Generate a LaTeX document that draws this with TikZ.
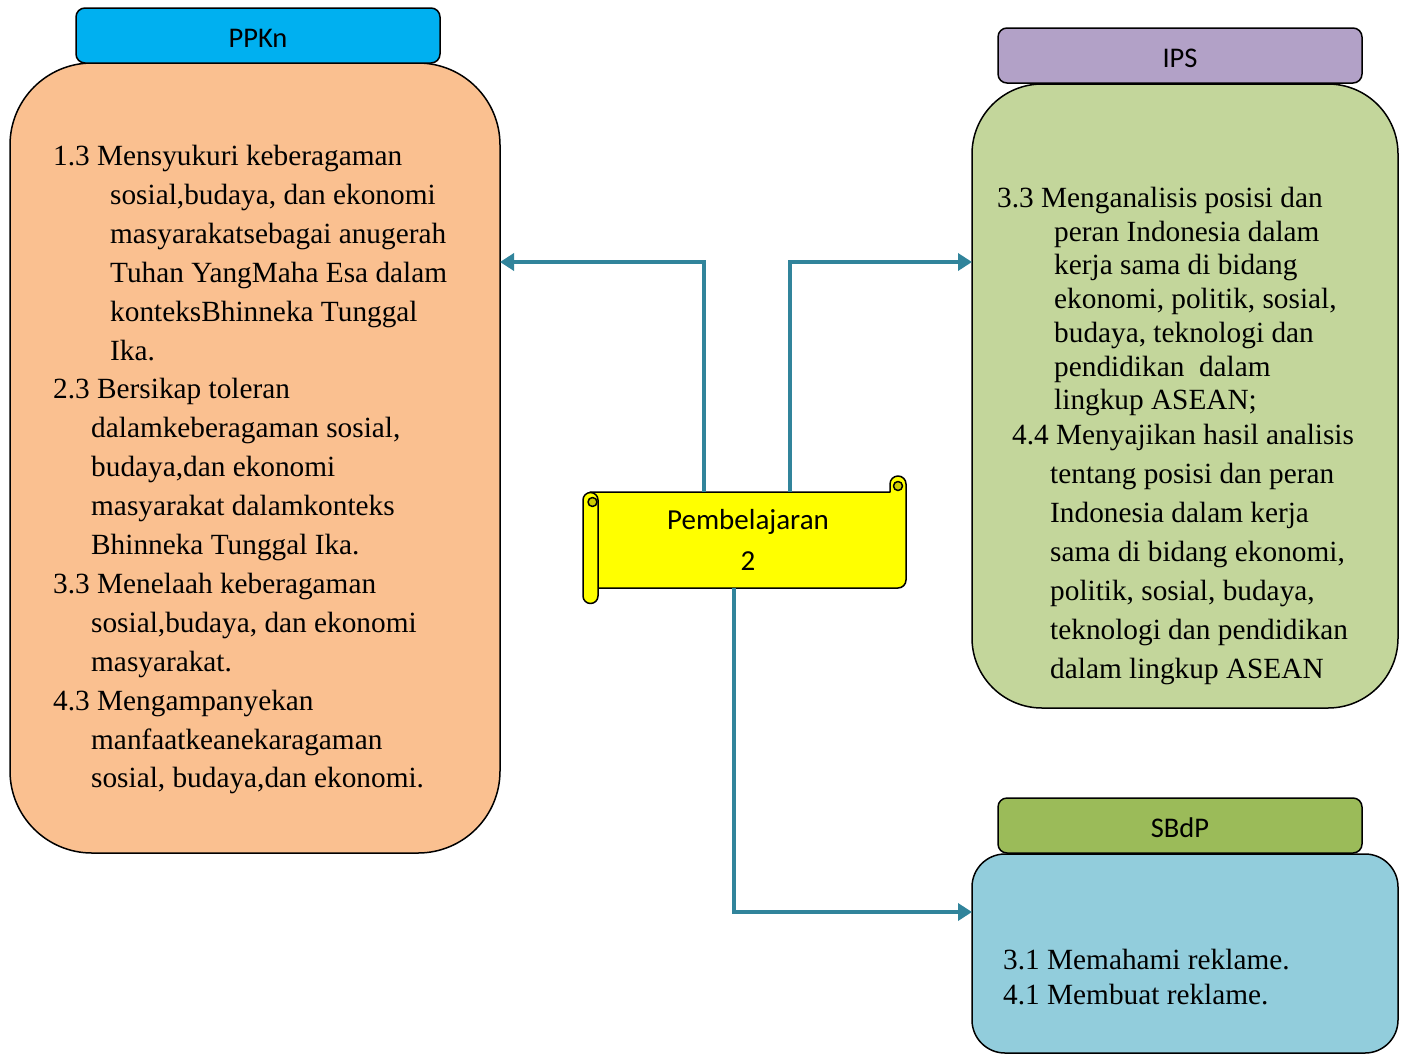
\documentclass[tikz,border=0pt]{standalone}
\usepackage{fontspec}
\setmainfont{Liberation Serif}
\newfontfamily\calibri{Carlito}
\usetikzlibrary{arrows.meta}
\definecolor{ppknhead}{HTML}{00B0F0}
\definecolor{ppknbody}{HTML}{FAC090}
\definecolor{ipshead}{HTML}{B2A1C7}
\definecolor{ipsbody}{HTML}{C3D69B}
\definecolor{sbdphead}{HTML}{9BBB59}
\definecolor{sbdpbody}{HTML}{92CDDC}
\definecolor{conncol}{HTML}{31849B}
\definecolor{scrollyel}{HTML}{FFFF00}
\definecolor{scrolldark}{HTML}{CCCC00}
\begin{document}
\begin{tikzpicture}[x=1pt,y=-1pt,
  bodybox/.style={draw=black, line width=1.5pt, inner sep=0pt, outer sep=0pt},
  headbox/.style={draw=black, line width=1.5pt, rounded corners=9pt, minimum width=364pt, minimum height=55pt, inner sep=0pt, outer sep=0pt, font=\calibri\fontsize{28.5}{34}\selectfont, text height=30.5pt, text depth=7pt},
  txt/.style={font=\fontsize{29.3}{#1}\selectfont, align=left, inner sep=0pt, anchor=north west},
  conn/.style={draw=conncol, line width=4.5pt, -{Triangle[length=14pt,width=17pt]}},
  scrollline/.style={draw=black, line width=1.5pt, line join=round}
]
\useasboundingbox (0,0) rectangle (1410,1055);

% body boxes
\node[bodybox, fill=ppknbody, minimum width=490pt, minimum height=790pt, rounded corners=82pt] (ppkn) at (255,458) {};
\node[bodybox, fill=ipsbody, minimum width=426pt, minimum height=624pt, rounded corners=70pt] (ips) at (1185,396) {};
\node[bodybox, fill=sbdpbody, minimum width=426pt, minimum height=199pt, rounded corners=33pt] (sbdp) at (1185,953.5) {};

% headers
\node[headbox, fill=ppknhead] (ppknh) at (258,35.5) {PPKn};
\node[headbox, fill=ipshead] (ipsh) at (1180,55.5) {IPS};
\node[headbox, fill=sbdphead] (sbdph) at (1180,825.5) {SBdP};

% texts
\node[txt=38.9] (ppkntext) at (53,145) {1.3 Mensyukuri keberagaman\\
\hspace*{57pt}sosial,budaya, dan ekonomi\\
\hspace*{57pt}masyarakatsebagai anugerah\\
\hspace*{57pt}Tuhan YangMaha Esa dalam\\
\hspace*{57pt}konteksBhinneka Tunggal\\
\hspace*{57pt}Ika.\\
2.3 Bersikap toleran\\
\hspace*{38pt}dalamkeberagaman sosial,\\
\hspace*{38pt}budaya,dan ekonomi\\
\hspace*{38pt}masyarakat dalamkonteks\\
\hspace*{38pt}Bhinneka Tunggal Ika.\\
3.3 Menelaah keberagaman\\
\hspace*{38pt}sosial,budaya, dan ekonomi\\
\hspace*{38pt}masyarakat.\\
4.3 Mengampanyekan\\
\hspace*{38pt}manfaatkeanekaragaman\\
\hspace*{38pt}sosial, budaya,dan ekonomi.};

\node[txt=33.7] (ipstexta) at (997,187) {3.3 Menganalisis posisi dan\\
\hspace*{57pt}peran Indonesia dalam\\
\hspace*{57pt}kerja sama di bidang\\
\hspace*{57pt}ekonomi, politik, sosial,\\
\hspace*{57pt}budaya, teknologi dan\\
\hspace*{57pt}pendidikan~ dalam\\
\hspace*{57pt}lingkup ASEAN;};

\node[txt=39] (ipstextb) at (1012,423.5) {4.4 Menyajikan hasil analisis\\
\hspace*{38pt}tentang posisi dan peran\\
\hspace*{38pt}Indonesia dalam kerja\\
\hspace*{38pt}sama di bidang ekonomi,\\
\hspace*{38pt}politik, sosial, budaya,\\
\hspace*{38pt}teknologi dan pendidikan\\
\hspace*{38pt}dalam lingkup ASEAN};

\node[txt=35] (sbdptext) at (1003,948.5) {3.1 Memahami reklame.\\
4.1 Membuat reklame.};

% scroll shape
\draw[scrollline, fill=scrollyel] (590,492) -- (890,492) -- (890,484)
  arc[start angle=180, end angle=360, radius=8] -- (906,580)
  arc[start angle=0, end angle=90, radius=8] -- (590,588) -- cycle;
\draw[scrollline, fill=scrolldark] (898,486) circle (4.5);
\draw[scrollline, fill=scrollyel] (583,500)
  arc[start angle=180, end angle=360, radius=7.5] -- (598,596)
  arc[start angle=0, end angle=180, radius=7.5] -- cycle;
\draw[scrollline, fill=scrolldark] (592.5,502) circle (4.5);

\node[minimum width=308pt, minimum height=96pt, inner sep=0pt, outer sep=0pt,
  align=center, font=\calibri\fontsize{29}{41}\selectfont] (scroll) at (748,540) {Pembelajaran\\2};

% connectors
\draw[conn] (scroll.north -| 704,0) |- (ppkn.east |- 0,262);
\draw[conn] (scroll.north -| 790,0) |- (ips.west |- 0,262);
\draw[conn] (scroll.south -| 734,0) |- (sbdp.west |- 0,912);
\end{tikzpicture}
\end{document}
